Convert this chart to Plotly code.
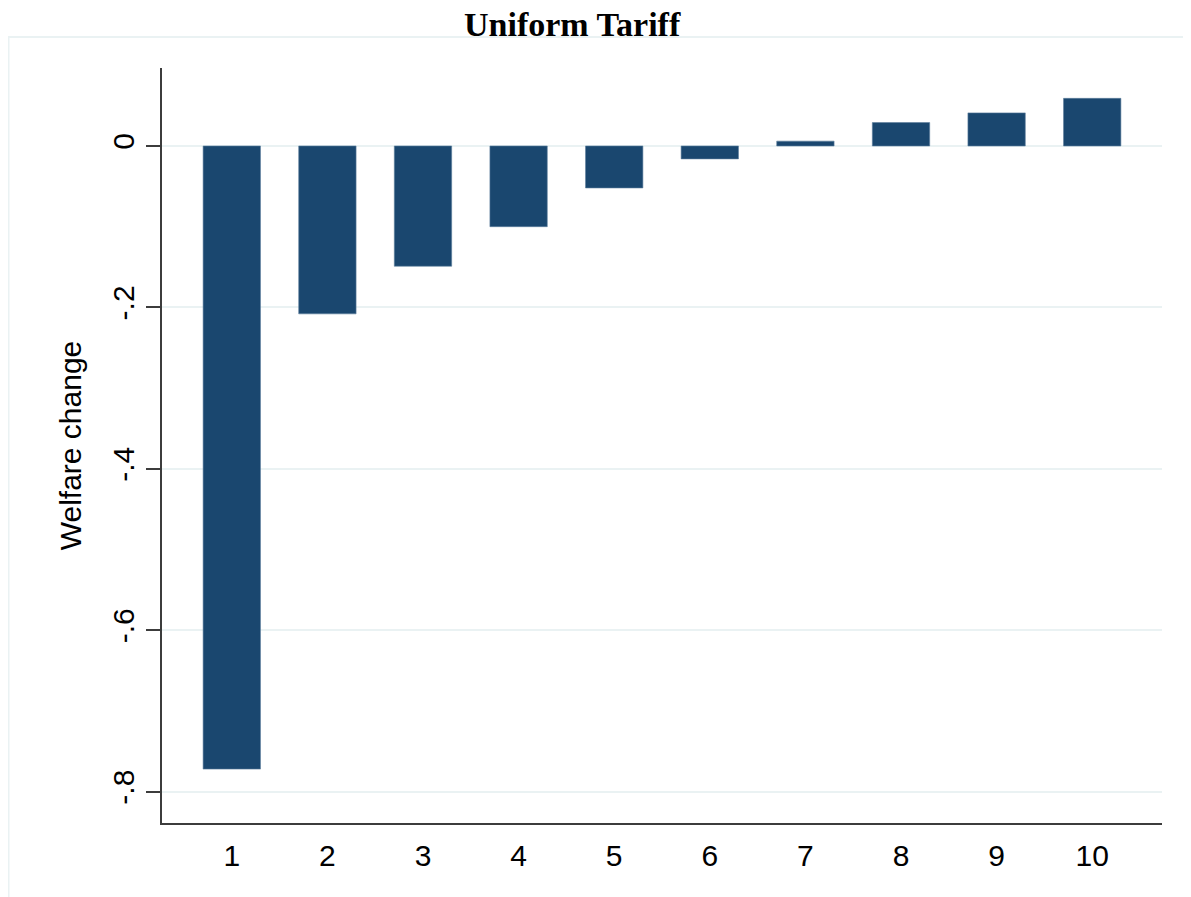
import plotly.graph_objects as go

categories = [1, 2, 3, 4, 5, 6, 7, 8, 9, 10]
welfare_change = [-0.772, -0.208, -0.149, -0.100, -0.052, -0.016, 0.006, 0.029, 0.041, 0.059]
y_tick_vals = [0, -0.2, -0.4, -0.6, -0.8]
y_tick_text = ["0", "-.2", "-.4", "-.6", "-.8"]
x_tick_text = [str(c) for c in categories]

BAR = "#1a476f"
GRID = "#eaf2f3"
AXIS = "#3c3c3c"

fig = go.Figure()
fig.add_trace(go.Bar(
    x=categories, y=welfare_change,
    marker=dict(color=BAR, line=dict(color="#5d7d9c", width=0.6)),
    width=0.6,
))

# page body has an 8px default margin, so the figure is sized/offset to compensate
fig.update_layout(
    width=1183, height=889,
    margin=dict(l=154, r=29, t=60, b=74, autoexpand=False),
    paper_bgcolor="white", plot_bgcolor="white",
    showlegend=False,
    font=dict(family="Liberation Sans, Arial, sans-serif", color="black"),
    annotations=[dict(
        text="<b>Uniform Tariff</b>", x=0.41, y=1.031, xref="paper", yref="paper",
        xanchor="center", yanchor="bottom", showarrow=False,
        font=dict(family="Liberation Serif, DejaVu Serif, serif", size=34, color="black"),
    )],
    shapes=[dict(
        type="rect", xref="paper", yref="paper",
        x0=-0.1535, x1=1.027, y0=-0.2, y1=1.041,
        line=dict(color=GRID, width=2), layer="below",
    )],
)

fig.update_xaxes(
    range=[0.27, 10.73],
    tickvals=categories, ticktext=x_tick_text,
    showgrid=False, zeroline=False,
    showline=True, linecolor=AXIS, linewidth=1.5,
    ticks="", ticklabelstandoff=5,
    tickfont=dict(size=30, color="black"),
)
fig.update_yaxes(
    range=[-0.8388, 0.0966],
    tickvals=y_tick_vals, ticktext=y_tick_text,
    tickangle=-90,
    showgrid=True, gridcolor=GRID, gridwidth=2,
    zeroline=False,
    showline=True, linecolor=AXIS, linewidth=1.5,
    ticks="outside", ticklen=14, tickwidth=1.5, tickcolor=AXIS,
    ticklabelstandoff=0,
    tickfont=dict(size=30, color="black"),
    title=dict(text="Welfare change", font=dict(size=30, color="black"), standoff=17),
)

fig.write_html("out.html")
